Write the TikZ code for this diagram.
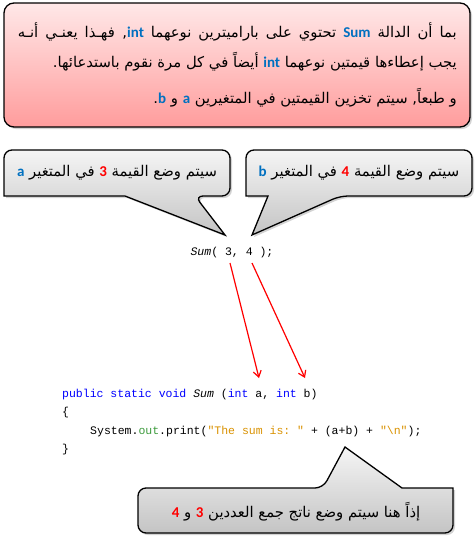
\documentclass[tikz,border=0pt]{standalone}
\usepackage{fontspec}
\usetikzlibrary{shadows, arrows.meta}
\setmonofont{Liberation Mono}
\newfontfamily\arabicfont[Script=Arabic]{DejaVu Sans}
\newfontfamily\calibfont{Carlito}
\TeXXeTstate=1
\definecolor{kw-blue}{HTML}{0000FF}
\definecolor{fld-green}{HTML}{3C9A3C}
\definecolor{str-orange}{HTML}{D99100}
\definecolor{pink-top}{HTML}{FFE8E8}
\definecolor{pink-bottom}{HTML}{FF9C9C}
\definecolor{gray-top}{HTML}{F5F5F5}
\definecolor{gray-bottom}{HTML}{C4C4C4}
% bold Latin word inside the Arabic text; colour set as a font feature,
% since colour specials get mixed up by the right-to-left reversal
\newcommand{\hlword}[2]{\hbox{\calibfont\bfseries\fontsize{15}{17}\selectfont\addfontfeature{Color=#1}#2}}
\newcommand{\notesblue}{0070C0}
\newcommand{\notesred}{FF0000}
\tikzset{
  notebox/.style={draw=black, line width=1.3pt, rounded corners=10pt,
    top color=pink-top, bottom color=pink-bottom,
    drop shadow={opacity=0.35, shadow xshift=2pt, shadow yshift=-2pt}},
  callout/.style={draw=black, line width=1.3pt,
    top color=gray-top, bottom color=gray-bottom,
    drop shadow={opacity=0.35, shadow xshift=2pt, shadow yshift=-2pt}},
  artext/.style={font=\arabicfont\fontsize{14.8}{17}\selectfont, inner sep=0pt},
  codeline/.style={font=\ttfamily\fontsize{11.5}{13}\selectfont,
    inner sep=0pt, anchor=west},
  pointer/.style={-{Straight Barb[length=6pt, width=8pt]}, red, line width=1.2pt},
}
\begin{document}
\begin{tikzpicture}[x=1pt, y=-1pt]
  \useasboundingbox (0,0) rectangle (476,542);
  % explanation box
  \draw[notebox] (4,3) rectangle (470,127);
  \node[artext, anchor=east] (line1) at (457,32)
    {\makebox[439pt][s]{\beginR بما أن الدالة \hlword{\notesblue}{Sum} تحتوي على باراميترين نوعهما \hlword{\notesblue}{int}, فهـذا يعنـي أنـه\endR}};
  \node[artext, anchor=east] (line2) at (457,62)
    {\beginR يجب إعطاءها قيمتين نوعهما \hlword{\notesblue}{int} أيضاً في كل مرة نقوم باستدعائها.\endR};
  \node[artext, anchor=east] (line3) at (457,98)
    {\beginR و طبعاً, سيتم تخزين القيمتين في المتغيرين \hlword{\notesblue}{a} و \hlword{\notesblue}{b}.\endR};
  % callouts
  \draw[callout] (225,235) -- (125,196) -- (4,196) [rounded corners=8pt]
    -- (4,150) -- (230,150) -- (230,196) -- (195,196) [sharp corners] -- cycle;
  \draw[callout] (252,235) -- (268,196) -- (246,196) [rounded corners=8pt]
    -- (246,150) -- (472,150) -- (472,196) -- (340,196) [sharp corners] -- cycle;
  \draw[callout] (345,447) -- (402,488) -- (453,488) [rounded corners=8pt]
    -- (453,533) -- (138,533) -- (138,488) -- (323,488) [sharp corners] -- cycle;
  \node[artext] (noteA) at (117,173)
    {\beginR سيتم وضع القيمة \hlword{\notesred}{3} في المتغير \hlword{\notesblue}{a}\endR};
  \node[artext] (noteB) at (359,173)
    {\beginR سيتم وضع القيمة \hlword{\notesred}{4} في المتغير \hlword{\notesblue}{b}\endR};
  \node[artext] (noteSum) at (296,512)
    {\beginR إذاً هنا سيتم وضع ناتج جمع العددين \hlword{\notesred}{3} و \hlword{\notesred}{4}\endR};
  % code
  \node[codeline, anchor=center] (call) at (232,253) {\textit{Sum}( 3, 4 );};
  \node[codeline] (sig) at (62,395)
    {\textcolor{kw-blue}{public static void} \textit{Sum} (\textcolor{kw-blue}{int} a, \textcolor{kw-blue}{int} b)};
  \node[codeline] (open) at (62,413) {\{};
  \node[codeline] (body) at (90,432)
    {System.\textcolor{fld-green}{out}.print(\textcolor{str-orange}{"The sum is: "} + (a+b) + \textcolor{str-orange}{"\textbackslash n"});};
  \node[codeline] (close) at (62,450) {\}};
  \coordinate (argA) at (230,263);
  \coordinate (argB) at (252,263);
  \coordinate (parA) at (259,378);
  \coordinate (parB) at (305,378);
  \draw[pointer] (argA) -- (parA);
  \draw[pointer] (argB) -- (parB);
\end{tikzpicture}
\end{document}
